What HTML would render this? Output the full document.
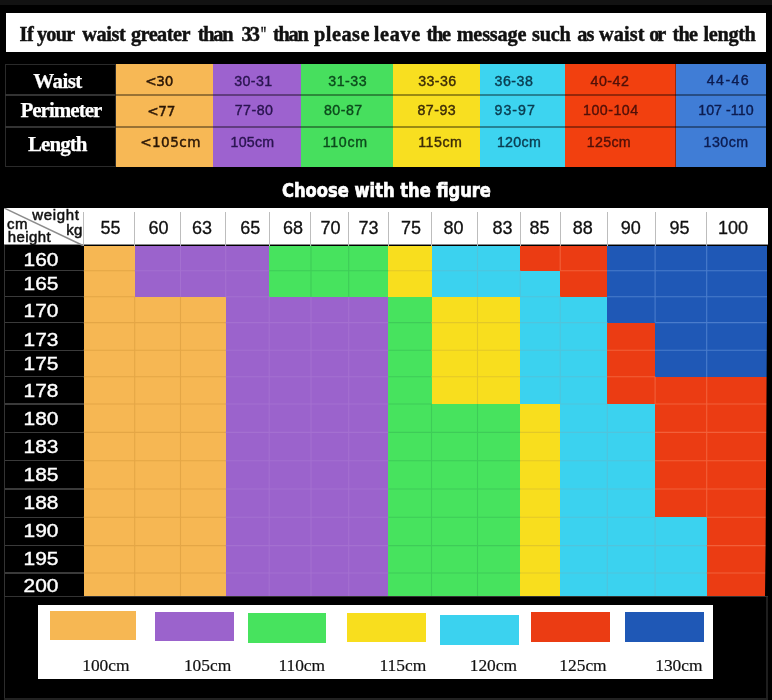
<!DOCTYPE html>
<html lang="en"><head><meta charset="utf-8"><title>Size chart</title>
<style>
html,body{margin:0;padding:0;background:#000;}
body{width:772px;height:700px;position:relative;overflow:hidden;font-family:"Liberation Sans",sans-serif;}
.a{position:absolute;}
.t{position:absolute;white-space:nowrap;line-height:1;}
.ser{font-family:"Liberation Serif",serif;}
.dj{font-family:"DejaVu Sans","Liberation Sans",sans-serif;}
.ch{font-size:18px;color:#111;-webkit-text-stroke:.3px #111;transform:translateX(-50%);}
.rh{font-size:18.5px;color:#fff;-webkit-text-stroke:.4px #fff;transform:translate(-50%,-50%) scaleX(1.13);}
.tv{font-size:14.2px;}
.tvo{font-size:13.6px;color:#2a1606;-webkit-text-stroke:.45px #2a1606;}
.lg{font-size:17.4px;color:#111;-webkit-text-stroke:.2px #111;}
.lab{font-size:21px;font-weight:bold;color:#fff;-webkit-text-stroke:.25px #fff;}
.hc{font-size:15px;color:#111;letter-spacing:.4px;-webkit-text-stroke:.5px #111;}
</style></head><body>

<div class="a" style="left:0;top:0;width:772px;height:5px;background:#121212"></div>
<div class="a" style="left:6px;top:12.5px;width:760px;height:39.5px;background:#fff"></div>
<div class="a ser" id="title" style="left:0;top:24.1px;-webkit-text-stroke:.45px #111;font-size:20.3px;font-weight:bold;color:#111;line-height:1;white-space:nowrap;width:772px;height:22px">
<span class="t" style="left:19.5px;top:0;letter-spacing:-0.36px">If</span> 
<span class="t" style="left:36.9px;top:0;letter-spacing:-0.73px">your</span> 
<span class="t" style="left:82.2px;top:0;letter-spacing:-0.38px">waist</span> 
<span class="t" style="left:130.9px;top:0;letter-spacing:-0.52px">greater</span> 
<span class="t" style="left:197.8px;top:0;letter-spacing:-1.23px">than</span> 
<span class="t" style="left:241.4px;top:0;letter-spacing:-1.9px">33</span><span class="t" style="left:259.6px;top:0;transform-origin:0 0;transform:scaleX(.62)">&quot;</span> 
<span class="t" style="left:273px;top:0;letter-spacing:-1.26px">than</span> 
<span class="t" style="left:313.9px;top:0;letter-spacing:0.54px">please</span> 
<span class="t" style="left:373.8px;top:0;letter-spacing:0.66px">leave</span> 
<span class="t" style="left:426.4px;top:0;letter-spacing:-1.23px">the</span> 
<span class="t" style="left:456.7px;top:0;letter-spacing:-0.21px">message</span> 
<span class="t" style="left:532px;top:0;letter-spacing:-0.23px">such</span> 
<span class="t" style="left:577.3px;top:0;letter-spacing:-1.05px">as</span> 
<span class="t" style="left:599px;top:0;letter-spacing:0.1px">waist</span> 
<span class="t" style="left:649.2px;top:0;letter-spacing:-2.16px">or</span> 
<span class="t" style="left:672.5px;top:0;letter-spacing:-0.78px">the</span> 
<span class="t" style="left:703.6px;top:0;letter-spacing:-0.37px">length</span> 
</div>
<div class="a" style="left:5px;top:63.5px;width:110.5px;height:103px;background:#000;border:1px solid #2a2a2a;box-sizing:border-box"></div>
<div class="a" style="left:115.5px;top:63.5px;width:98.5px;height:103px;background:#f7b855"></div>
<div class="a" style="left:213px;top:63.5px;width:89.3px;height:103px;background:#9d62cf"></div>
<div class="a" style="left:301.3px;top:63.5px;width:92.2px;height:103px;background:#47df5e"></div>
<div class="a" style="left:392.5px;top:63.5px;width:88.5px;height:103px;background:#f8df20"></div>
<div class="a" style="left:480px;top:63.5px;width:86.4px;height:103px;background:#3dd4f0"></div>
<div class="a" style="left:565.4px;top:63.5px;width:111.2px;height:103px;background:#f2400f"></div>
<div class="a" style="left:675.6px;top:63.5px;width:90.9px;height:103px;background:#407dd6"></div>
<div class="a" style="left:5px;top:94.25px;width:110px;height:1.5px;background:#333"></div>
<div class="a" style="left:115.5px;top:94.25px;width:651px;height:1.5px;background:rgba(0,0,0,.38)"></div>
<div class="a" style="left:5px;top:126.25px;width:110px;height:1.5px;background:#333"></div>
<div class="a" style="left:115.5px;top:126.25px;width:651px;height:1.5px;background:rgba(0,0,0,.38)"></div>
<div class="a" style="left:675px;top:63.5px;width:1.2px;height:103px;background:rgba(0,0,0,.35)"></div>
<div class="t ser lab" style="left:33.3px;top:71px;letter-spacing:-0.61px">Waist</div>
<div class="t ser lab" style="left:20.4px;top:99.9px;letter-spacing:-0.98px">Perimeter</div>
<div class="t ser lab" style="left:28px;top:134.1px;letter-spacing:-0.96px">Length</div>
<div class="t dj tvo" style="left:145.2px;top:75px;letter-spacing:-0.25px">&lt;30</div>
<div class="t dj tvo" style="left:147.2px;top:104.7px;letter-spacing:-0.25px">&lt;77</div>
<div class="t dj tvo" style="left:140.2px;top:136px;letter-spacing:0.44px">&lt;105cm</div>
<div class="t tv" style="left:234.2px;top:73.8px;letter-spacing:0.42px;color:#2a1450;-webkit-text-stroke:.4px #2a1450">30-31</div>
<div class="t tv" style="left:234.7px;top:102.6px;letter-spacing:0.5px;color:#2a1450;-webkit-text-stroke:.4px #2a1450">77-80</div>
<div class="t tv" style="left:230.5px;top:135.1px;letter-spacing:0.27px;color:#2a1450;-webkit-text-stroke:.4px #2a1450">105cm</div>
<div class="t tv" style="left:328.3px;top:73.8px;letter-spacing:0.52px;color:#0c4a1c;-webkit-text-stroke:.4px #0c4a1c">31-33</div>
<div class="t tv" style="left:323.9px;top:103.1px;letter-spacing:0.5px;color:#0c4a1c;-webkit-text-stroke:.4px #0c4a1c">80-87</div>
<div class="t tv" style="left:322.7px;top:135.1px;letter-spacing:0.73px;color:#0c4a1c;-webkit-text-stroke:.4px #0c4a1c">110cm</div>
<div class="t tv" style="left:418.2px;top:73.8px;letter-spacing:0.42px;color:#3c2c08;-webkit-text-stroke:.4px #3c2c08">33-36</div>
<div class="t tv" style="left:417.4px;top:102.6px;letter-spacing:0.5px;color:#3c2c08;-webkit-text-stroke:.4px #3c2c08">87-93</div>
<div class="t tv" style="left:418.2px;top:135.1px;letter-spacing:0.53px;color:#3c2c08;-webkit-text-stroke:.4px #3c2c08">115cm</div>
<div class="t tv" style="left:494.5px;top:73.8px;letter-spacing:0.5px;color:#0a3c50;-webkit-text-stroke:.4px #0a3c50">36-38</div>
<div class="t tv" style="left:494.5px;top:102.6px;letter-spacing:1px;color:#0a3c50;-webkit-text-stroke:.4px #0a3c50">93-97</div>
<div class="t tv" style="left:496.9px;top:135.1px;letter-spacing:0.34px;color:#0a3c50;-webkit-text-stroke:.4px #0a3c50">120cm</div>
<div class="t tv" style="left:590.5px;top:73.8px;letter-spacing:0.5px;color:#501008;-webkit-text-stroke:.4px #501008">40-42</div>
<div class="t tv" style="left:583.1px;top:102.6px;letter-spacing:0.48px;color:#501008;-webkit-text-stroke:.4px #501008">100-104</div>
<div class="t tv" style="left:586.8px;top:135.1px;letter-spacing:0.32px;color:#501008;-webkit-text-stroke:.4px #501008">125cm</div>
<div class="t tv" style="left:706.8px;top:73px;letter-spacing:1.42px;color:#0c1c50;-webkit-text-stroke:.4px #0c1c50">44-46</div>
<div class="t tv" style="left:698.2px;top:102.6px;letter-spacing:0.07px;color:#0c1c50;-webkit-text-stroke:.4px #0c1c50">107 -110</div>
<div class="t tv" style="left:703.6px;top:135.3px;letter-spacing:0.47px;color:#0c1c50;-webkit-text-stroke:.4px #0c1c50">130cm</div>
<div class="t dj" id="choose" style="left:281.5px;top:181.4px;font-size:19.5px;font-weight:bold;color:#fff;font-stretch:condensed;transform-origin:0 0;transform:scaleX(.93);-webkit-text-stroke:.7px #fff">Choose with the figure</div>
<div class="a" style="left:4px;top:207.7px;width:763.5px;height:37.8px;background:#fff;border-bottom:1px solid #8a8a8a;box-sizing:border-box"></div>
<div class="a" style="left:83px;top:212px;width:1px;height:33.5px;background:#bdbdbd"></div>
<div class="a" style="left:134px;top:212px;width:1px;height:33.5px;background:#bdbdbd"></div>
<div class="a" style="left:180px;top:212px;width:1px;height:33.5px;background:#bdbdbd"></div>
<div class="a" style="left:225px;top:212px;width:1px;height:33.5px;background:#bdbdbd"></div>
<div class="a" style="left:269px;top:212px;width:1px;height:33.5px;background:#bdbdbd"></div>
<div class="a" style="left:310px;top:212px;width:1px;height:33.5px;background:#bdbdbd"></div>
<div class="a" style="left:348px;top:212px;width:1px;height:33.5px;background:#bdbdbd"></div>
<div class="a" style="left:388px;top:212px;width:1px;height:33.5px;background:#bdbdbd"></div>
<div class="a" style="left:431px;top:212px;width:1px;height:33.5px;background:#bdbdbd"></div>
<div class="a" style="left:477px;top:212px;width:1px;height:33.5px;background:#bdbdbd"></div>
<div class="a" style="left:520px;top:212px;width:1px;height:33.5px;background:#bdbdbd"></div>
<div class="a" style="left:560px;top:212px;width:1px;height:33.5px;background:#bdbdbd"></div>
<div class="a" style="left:607px;top:212px;width:1px;height:33.5px;background:#bdbdbd"></div>
<div class="a" style="left:655px;top:212px;width:1px;height:33.5px;background:#bdbdbd"></div>
<div class="a" style="left:706px;top:212px;width:1px;height:33.5px;background:#bdbdbd"></div>
<svg class="a" style="left:4px;top:207.7px" width="80" height="38"><line x1="0" y1="0" x2="79.5" y2="37.8" stroke="#8c8c8c" stroke-width="1.5"/></svg>
<div class="t hc" style="left:32.2px;top:207px;letter-spacing:.65px">weight</div>
<div class="t hc" style="left:7px;top:216px">cm</div>
<div class="t hc" style="left:66.2px;top:222.2px">kg</div>
<div class="t hc" style="left:7.8px;top:229.4px">height</div>
<div class="t ch" style="left:110.6px;top:219.1px">55</div>
<div class="t ch" style="left:158.6px;top:219.1px">60</div>
<div class="t ch" style="left:202.1px;top:219.1px">63</div>
<div class="t ch" style="left:250.3px;top:219.1px">65</div>
<div class="t ch" style="left:292.9px;top:219.1px">68</div>
<div class="t ch" style="left:330.6px;top:219.1px">70</div>
<div class="t ch" style="left:368.5px;top:219.1px">73</div>
<div class="t ch" style="left:411.1px;top:219.1px">75</div>
<div class="t ch" style="left:453.6px;top:219.1px">80</div>
<div class="t ch" style="left:502.4px;top:219.1px">83</div>
<div class="t ch" style="left:539.4px;top:219.1px">85</div>
<div class="t ch" style="left:582.7px;top:219.1px">88</div>
<div class="t ch" style="left:630.7px;top:219.1px">90</div>
<div class="t ch" style="left:679.4px;top:219.1px">95</div>
<div class="t ch" style="left:733px;top:219.1px">100</div>
<div class="a" style="left:83.5px;top:245.5px;width:52.2px;height:26.2px;background:#f6b753"></div>
<div class="a" style="left:134.7px;top:245.5px;width:135.5px;height:26.2px;background:#9b63cc"></div>
<div class="a" style="left:269.2px;top:245.5px;width:120.2px;height:26.2px;background:#47e35e"></div>
<div class="a" style="left:388.4px;top:245.5px;width:44.1px;height:26.2px;background:#f8de1e"></div>
<div class="a" style="left:431.5px;top:245.5px;width:89.7px;height:26.2px;background:#3bd2ef"></div>
<div class="a" style="left:520.2px;top:245.5px;width:88.1px;height:26.2px;background:#eb3c13"></div>
<div class="a" style="left:607.3px;top:245.5px;width:159.7px;height:26.2px;background:#1f58b6"></div>
<div class="a" style="left:83.5px;top:270.7px;width:52.2px;height:27.1px;background:#f6b753"></div>
<div class="a" style="left:134.7px;top:270.7px;width:135.5px;height:27.1px;background:#9b63cc"></div>
<div class="a" style="left:269.2px;top:270.7px;width:120.2px;height:27.1px;background:#47e35e"></div>
<div class="a" style="left:388.4px;top:270.7px;width:44.1px;height:27.1px;background:#f8de1e"></div>
<div class="a" style="left:431.5px;top:270.7px;width:129.7px;height:27.1px;background:#3bd2ef"></div>
<div class="a" style="left:560.2px;top:270.7px;width:48.1px;height:27.1px;background:#eb3c13"></div>
<div class="a" style="left:607.3px;top:270.7px;width:159.7px;height:27.1px;background:#1f58b6"></div>
<div class="a" style="left:83.5px;top:296.8px;width:143.2px;height:26.8px;background:#f6b753"></div>
<div class="a" style="left:225.7px;top:296.8px;width:163.7px;height:26.8px;background:#9b63cc"></div>
<div class="a" style="left:388.4px;top:296.8px;width:44.1px;height:26.8px;background:#47e35e"></div>
<div class="a" style="left:431.5px;top:296.8px;width:89.7px;height:26.8px;background:#f8de1e"></div>
<div class="a" style="left:520.2px;top:296.8px;width:88.1px;height:26.8px;background:#3bd2ef"></div>
<div class="a" style="left:607.3px;top:296.8px;width:159.7px;height:26.8px;background:#1f58b6"></div>
<div class="a" style="left:83.5px;top:322.6px;width:143.2px;height:28.7px;background:#f6b753"></div>
<div class="a" style="left:225.7px;top:322.6px;width:163.7px;height:28.7px;background:#9b63cc"></div>
<div class="a" style="left:388.4px;top:322.6px;width:44.1px;height:28.7px;background:#47e35e"></div>
<div class="a" style="left:431.5px;top:322.6px;width:89.7px;height:28.7px;background:#f8de1e"></div>
<div class="a" style="left:520.2px;top:322.6px;width:88.1px;height:28.7px;background:#3bd2ef"></div>
<div class="a" style="left:607.3px;top:322.6px;width:48.8px;height:28.7px;background:#eb3c13"></div>
<div class="a" style="left:655.1px;top:322.6px;width:111.9px;height:28.7px;background:#1f58b6"></div>
<div class="a" style="left:83.5px;top:350.3px;width:143.2px;height:27.4px;background:#f6b753"></div>
<div class="a" style="left:225.7px;top:350.3px;width:163.7px;height:27.4px;background:#9b63cc"></div>
<div class="a" style="left:388.4px;top:350.3px;width:44.1px;height:27.4px;background:#47e35e"></div>
<div class="a" style="left:431.5px;top:350.3px;width:89.7px;height:27.4px;background:#f8de1e"></div>
<div class="a" style="left:520.2px;top:350.3px;width:88.1px;height:27.4px;background:#3bd2ef"></div>
<div class="a" style="left:607.3px;top:350.3px;width:48.8px;height:27.4px;background:#eb3c13"></div>
<div class="a" style="left:655.1px;top:350.3px;width:111.9px;height:27.4px;background:#1f58b6"></div>
<div class="a" style="left:83.5px;top:376.7px;width:143.2px;height:28.3px;background:#f6b753"></div>
<div class="a" style="left:225.7px;top:376.7px;width:163.7px;height:28.3px;background:#9b63cc"></div>
<div class="a" style="left:388.4px;top:376.7px;width:44.1px;height:28.3px;background:#47e35e"></div>
<div class="a" style="left:431.5px;top:376.7px;width:89.7px;height:28.3px;background:#f8de1e"></div>
<div class="a" style="left:520.2px;top:376.7px;width:88.1px;height:28.3px;background:#3bd2ef"></div>
<div class="a" style="left:607.3px;top:376.7px;width:159.7px;height:28.3px;background:#eb3c13"></div>
<div class="a" style="left:83.5px;top:404px;width:143.2px;height:29.4px;background:#f6b753"></div>
<div class="a" style="left:225.7px;top:404px;width:163.7px;height:29.4px;background:#9b63cc"></div>
<div class="a" style="left:388.4px;top:404px;width:132.8px;height:29.4px;background:#47e35e"></div>
<div class="a" style="left:520.2px;top:404px;width:41px;height:29.4px;background:#f8de1e"></div>
<div class="a" style="left:560.2px;top:404px;width:95.9px;height:29.4px;background:#3bd2ef"></div>
<div class="a" style="left:655.1px;top:404px;width:111.9px;height:29.4px;background:#eb3c13"></div>
<div class="a" style="left:83.5px;top:432.4px;width:143.2px;height:29.3px;background:#f6b753"></div>
<div class="a" style="left:225.7px;top:432.4px;width:163.7px;height:29.3px;background:#9b63cc"></div>
<div class="a" style="left:388.4px;top:432.4px;width:132.8px;height:29.3px;background:#47e35e"></div>
<div class="a" style="left:520.2px;top:432.4px;width:41px;height:29.3px;background:#f8de1e"></div>
<div class="a" style="left:560.2px;top:432.4px;width:95.9px;height:29.3px;background:#3bd2ef"></div>
<div class="a" style="left:655.1px;top:432.4px;width:111.9px;height:29.3px;background:#eb3c13"></div>
<div class="a" style="left:83.5px;top:460.7px;width:143.2px;height:29.3px;background:#f6b753"></div>
<div class="a" style="left:225.7px;top:460.7px;width:163.7px;height:29.3px;background:#9b63cc"></div>
<div class="a" style="left:388.4px;top:460.7px;width:132.8px;height:29.3px;background:#47e35e"></div>
<div class="a" style="left:520.2px;top:460.7px;width:41px;height:29.3px;background:#f8de1e"></div>
<div class="a" style="left:560.2px;top:460.7px;width:95.9px;height:29.3px;background:#3bd2ef"></div>
<div class="a" style="left:655.1px;top:460.7px;width:111.9px;height:29.3px;background:#eb3c13"></div>
<div class="a" style="left:83.5px;top:489px;width:143.2px;height:29.3px;background:#f6b753"></div>
<div class="a" style="left:225.7px;top:489px;width:163.7px;height:29.3px;background:#9b63cc"></div>
<div class="a" style="left:388.4px;top:489px;width:132.8px;height:29.3px;background:#47e35e"></div>
<div class="a" style="left:520.2px;top:489px;width:41px;height:29.3px;background:#f8de1e"></div>
<div class="a" style="left:560.2px;top:489px;width:95.9px;height:29.3px;background:#3bd2ef"></div>
<div class="a" style="left:655.1px;top:489px;width:111.9px;height:29.3px;background:#eb3c13"></div>
<div class="a" style="left:83.5px;top:517.3px;width:143.2px;height:29.3px;background:#f6b753"></div>
<div class="a" style="left:225.7px;top:517.3px;width:163.7px;height:29.3px;background:#9b63cc"></div>
<div class="a" style="left:388.4px;top:517.3px;width:132.8px;height:29.3px;background:#47e35e"></div>
<div class="a" style="left:520.2px;top:517.3px;width:41px;height:29.3px;background:#f8de1e"></div>
<div class="a" style="left:560.2px;top:517.3px;width:147.5px;height:29.3px;background:#3bd2ef"></div>
<div class="a" style="left:706.7px;top:517.3px;width:60.3px;height:29.3px;background:#eb3c13"></div>
<div class="a" style="left:83.5px;top:545.6px;width:143.2px;height:28.4px;background:#f6b753"></div>
<div class="a" style="left:225.7px;top:545.6px;width:163.7px;height:28.4px;background:#9b63cc"></div>
<div class="a" style="left:388.4px;top:545.6px;width:132.8px;height:28.4px;background:#47e35e"></div>
<div class="a" style="left:520.2px;top:545.6px;width:41px;height:28.4px;background:#f8de1e"></div>
<div class="a" style="left:560.2px;top:545.6px;width:147.5px;height:28.4px;background:#3bd2ef"></div>
<div class="a" style="left:706.7px;top:545.6px;width:60.3px;height:28.4px;background:#eb3c13"></div>
<div class="a" style="left:83.5px;top:573px;width:143.2px;height:23.3px;background:#f6b753"></div>
<div class="a" style="left:225.7px;top:573px;width:163.7px;height:23.3px;background:#9b63cc"></div>
<div class="a" style="left:388.4px;top:573px;width:132.8px;height:23.3px;background:#47e35e"></div>
<div class="a" style="left:520.2px;top:573px;width:41px;height:23.3px;background:#f8de1e"></div>
<div class="a" style="left:560.2px;top:573px;width:147.5px;height:23.3px;background:#3bd2ef"></div>
<div class="a" style="left:706.7px;top:573px;width:60.3px;height:23.3px;background:#eb3c13"></div>
<svg class="a" style="left:0;top:0" width="772" height="700" fill="none" stroke-width="1.1">
<path stroke="#e4a646" d="M83.5 270.7h51.2M83.5 296.8h51.2M83.5 322.6h51.2M134.7 296.8v25.8M134.7 322.6h45.8M180.5 296.8v25.8M180.5 322.6h45.2M83.5 350.3h51.2M134.7 322.6v27.7M134.7 350.3h45.8M180.5 322.6v27.7M180.5 350.3h45.2M83.5 376.7h51.2M134.7 350.3v26.4M134.7 376.7h45.8M180.5 350.3v26.4M180.5 376.7h45.2M83.5 404h51.2M134.7 376.7v27.3M134.7 404h45.8M180.5 376.7v27.3M180.5 404h45.2M83.5 432.4h51.2M134.7 404v28.4M134.7 432.4h45.8M180.5 404v28.4M180.5 432.4h45.2M83.5 460.7h51.2M134.7 432.4v28.3M134.7 460.7h45.8M180.5 432.4v28.3M180.5 460.7h45.2M83.5 489h51.2M134.7 460.7v28.3M134.7 489h45.8M180.5 460.7v28.3M180.5 489h45.2M83.5 517.3h51.2M134.7 489v28.3M134.7 517.3h45.8M180.5 489v28.3M180.5 517.3h45.2M83.5 545.6h51.2M134.7 517.3v28.3M134.7 545.6h45.8M180.5 517.3v28.3M180.5 545.6h45.2M83.5 573h51.2M134.7 545.6v27.4M134.7 573h45.8M180.5 545.6v27.4M180.5 573h45.2M134.7 573v23.3M180.5 573v23.3"/>
<path stroke="#a470d0" d="M134.7 270.7h45.8M180.5 245.5v25.2M180.5 270.7h45.2M225.7 245.5v25.2M225.7 270.7h43.5M180.5 270.7v26.1M225.7 270.7v26.1M225.7 296.8h43.5M225.7 322.6h43.5M269.2 296.8v25.8M269.2 322.6h41.8M311 296.8v25.8M311 322.6h37.7M348.7 296.8v25.8M348.7 322.6h39.7M225.7 350.3h43.5M269.2 322.6v27.7M269.2 350.3h41.8M311 322.6v27.7M311 350.3h37.7M348.7 322.6v27.7M348.7 350.3h39.7M225.7 376.7h43.5M269.2 350.3v26.4M269.2 376.7h41.8M311 350.3v26.4M311 376.7h37.7M348.7 350.3v26.4M348.7 376.7h39.7M225.7 404h43.5M269.2 376.7v27.3M269.2 404h41.8M311 376.7v27.3M311 404h37.7M348.7 376.7v27.3M348.7 404h39.7M225.7 432.4h43.5M269.2 404v28.4M269.2 432.4h41.8M311 404v28.4M311 432.4h37.7M348.7 404v28.4M348.7 432.4h39.7M225.7 460.7h43.5M269.2 432.4v28.3M269.2 460.7h41.8M311 432.4v28.3M311 460.7h37.7M348.7 432.4v28.3M348.7 460.7h39.7M225.7 489h43.5M269.2 460.7v28.3M269.2 489h41.8M311 460.7v28.3M311 489h37.7M348.7 460.7v28.3M348.7 489h39.7M225.7 517.3h43.5M269.2 489v28.3M269.2 517.3h41.8M311 489v28.3M311 517.3h37.7M348.7 489v28.3M348.7 517.3h39.7M225.7 545.6h43.5M269.2 517.3v28.3M269.2 545.6h41.8M311 517.3v28.3M311 545.6h37.7M348.7 517.3v28.3M348.7 545.6h39.7M225.7 573h43.5M269.2 545.6v27.4M269.2 573h41.8M311 545.6v27.4M311 573h37.7M348.7 545.6v27.4M348.7 573h39.7M269.2 573v23.3M311 573v23.3M348.7 573v23.3"/>
<path stroke="#3ecc58" d="M269.2 270.7h41.8M311 245.5v25.2M311 270.7h37.7M348.7 245.5v25.2M348.7 270.7h39.7M311 270.7v26.1M348.7 270.7v26.1M388.4 322.6h43.1M388.4 350.3h43.1M388.4 376.7h43.1M388.4 404h43.1M388.4 432.4h43.1M431.5 404v28.4M431.5 432.4h46M477.5 404v28.4M477.5 432.4h42.7M388.4 460.7h43.1M431.5 432.4v28.3M431.5 460.7h46M477.5 432.4v28.3M477.5 460.7h42.7M388.4 489h43.1M431.5 460.7v28.3M431.5 489h46M477.5 460.7v28.3M477.5 489h42.7M388.4 517.3h43.1M431.5 489v28.3M431.5 517.3h46M477.5 489v28.3M477.5 517.3h42.7M388.4 545.6h43.1M431.5 517.3v28.3M431.5 545.6h46M477.5 517.3v28.3M477.5 545.6h42.7M388.4 573h43.1M431.5 545.6v27.4M431.5 573h46M477.5 545.6v27.4M477.5 573h42.7M431.5 573v23.3M477.5 573v23.3"/>
<path stroke="#e2c828" d="M388.4 270.7h43.1M431.5 322.6h46M477.5 296.8v25.8M477.5 322.6h42.7M431.5 350.3h46M477.5 322.6v27.7M477.5 350.3h42.7M431.5 376.7h46M477.5 350.3v26.4M477.5 376.7h42.7M477.5 376.7v27.3M520.2 432.4h40M520.2 460.7h40M520.2 489h40M520.2 517.3h40M520.2 545.6h40M520.2 573h40"/>
<path stroke="#50c4dc" d="M431.5 270.7h46M477.5 245.5v25.2M477.5 270.7h42.7M477.5 270.7v26.1M520.2 270.7v26.1M520.2 296.8h40M520.2 322.6h40M560.2 296.8v25.8M560.2 322.6h47.1M520.2 350.3h40M560.2 322.6v27.7M560.2 350.3h47.1M520.2 376.7h40M560.2 350.3v26.4M560.2 376.7h47.1M560.2 376.7v27.3M560.2 404h47.1M560.2 432.4h47.1M607.3 404v28.4M607.3 432.4h47.8M560.2 460.7h47.1M607.3 432.4v28.3M607.3 460.7h47.8M560.2 489h47.1M607.3 460.7v28.3M607.3 489h47.8M560.2 517.3h47.1M607.3 489v28.3M607.3 517.3h47.8M560.2 545.6h47.1M607.3 517.3v28.3M607.3 545.6h47.8M655.1 517.3v28.3M655.1 545.6h51.6M560.2 573h47.1M607.3 545.6v27.4M607.3 573h47.8M655.1 545.6v27.4M655.1 573h51.6M607.3 573v23.3M655.1 573v23.3"/>
<path stroke="#f2603a" d="M560.2 245.5v25.2M560.2 270.7h47.1M607.3 350.3h47.8M607.3 376.7h47.8M655.1 376.7v27.3M655.1 404h51.6M706.7 376.7v27.3M706.7 404h60.3M655.1 432.4h51.6M706.7 404v28.4M706.7 432.4h60.3M655.1 460.7h51.6M706.7 432.4v28.3M706.7 460.7h60.3M655.1 489h51.6M706.7 460.7v28.3M706.7 489h60.3M706.7 489v28.3M706.7 517.3h60.3M706.7 545.6h60.3M706.7 573h60.3"/>
<path stroke="#4a7ccc" d="M607.3 270.7h47.8M655.1 245.5v25.2M655.1 270.7h51.6M706.7 245.5v25.2M706.7 270.7h60.3M607.3 296.8h47.8M655.1 270.7v26.1M655.1 296.8h51.6M706.7 270.7v26.1M706.7 296.8h60.3M655.1 296.8v25.8M655.1 322.6h51.6M706.7 296.8v25.8M706.7 322.6h60.3M655.1 350.3h51.6M706.7 322.6v27.7M706.7 350.3h60.3M706.7 350.3v26.4"/>
</svg>
<div class="a" style="left:4px;top:270px;width:79.5px;height:1.4px;background:#3a3a3a"></div>
<div class="a" style="left:4px;top:296.1px;width:79.5px;height:1.4px;background:#3a3a3a"></div>
<div class="a" style="left:4px;top:321.9px;width:79.5px;height:1.4px;background:#3a3a3a"></div>
<div class="a" style="left:4px;top:349.6px;width:79.5px;height:1.4px;background:#3a3a3a"></div>
<div class="a" style="left:4px;top:376px;width:79.5px;height:1.4px;background:#3a3a3a"></div>
<div class="a" style="left:4px;top:403.3px;width:79.5px;height:1.4px;background:#3a3a3a"></div>
<div class="a" style="left:4px;top:431.7px;width:79.5px;height:1.4px;background:#3a3a3a"></div>
<div class="a" style="left:4px;top:460px;width:79.5px;height:1.4px;background:#3a3a3a"></div>
<div class="a" style="left:4px;top:488.3px;width:79.5px;height:1.4px;background:#3a3a3a"></div>
<div class="a" style="left:4px;top:516.6px;width:79.5px;height:1.4px;background:#3a3a3a"></div>
<div class="a" style="left:4px;top:544.9px;width:79.5px;height:1.4px;background:#3a3a3a"></div>
<div class="a" style="left:4px;top:572.3px;width:79.5px;height:1.4px;background:#3a3a3a"></div>
<svg class="a" style="left:760px;top:245px" width="12" height="354"><polygon points="7.4,0 12,0 12,354 5,354 5,351.3 5.6,300" fill="#000"/></svg>
<div class="a" style="left:3.5px;top:245px;width:1.2px;height:352px;background:#333"></div>
<div class="a" style="left:3.5px;top:596px;width:764px;height:1.3px;background:#333"></div>
<div class="t rh" style="left:41px;top:259.9px">160</div>
<div class="t rh" style="left:41px;top:283.8px">165</div>
<div class="t rh" style="left:41px;top:310.8px">170</div>
<div class="t rh" style="left:41px;top:339.6px">173</div>
<div class="t rh" style="left:41px;top:363.5px">175</div>
<div class="t rh" style="left:41px;top:390.7px">178</div>
<div class="t rh" style="left:41px;top:418.8px">180</div>
<div class="t rh" style="left:41px;top:446.8px">183</div>
<div class="t rh" style="left:41px;top:475.1px">185</div>
<div class="t rh" style="left:41px;top:502.9px">188</div>
<div class="t rh" style="left:41px;top:530.9px">190</div>
<div class="t rh" style="left:41px;top:559px">195</div>
<div class="t rh" style="left:41px;top:585.9px">200</div>
<div class="a" style="left:3.6px;top:597px;width:1.3px;height:103px;background:#2c2c2c"></div>
<div class="a" style="left:766.4px;top:597px;width:1.2px;height:103px;background:#1e1e1e"></div>
<div class="a" style="left:3.6px;top:698.2px;width:764px;height:1.8px;background:#222"></div>
<div class="a" style="left:37.8px;top:604.5px;width:675.2px;height:74px;background:#fff"></div>
<div class="a" style="left:50px;top:610.5px;width:86px;height:29.4px;background:#f6b753"></div>
<div class="a" style="left:155px;top:611.8px;width:78.6px;height:29.2px;background:#9b63cc"></div>
<div class="a" style="left:247.6px;top:613px;width:78.4px;height:30px;background:#47e35e"></div>
<div class="a" style="left:346.9px;top:612.5px;width:79.3px;height:29.5px;background:#f8de1e"></div>
<div class="a" style="left:440.2px;top:614.6px;width:79.3px;height:30px;background:#3bd2ef"></div>
<div class="a" style="left:531.4px;top:612px;width:78.8px;height:30px;background:#eb3c13"></div>
<div class="a" style="left:624.7px;top:612.3px;width:79.5px;height:29.7px;background:#1f58b6"></div>
<div class="t ser lg" style="left:82.2px;top:656.9px">100cm</div>
<div class="t ser lg" style="left:183.9px;top:656.9px">105cm</div>
<div class="t ser lg" style="left:278.4px;top:656.9px">110cm</div>
<div class="t ser lg" style="left:379.5px;top:656.9px">115cm</div>
<div class="t ser lg" style="left:469.7px;top:656.9px">120cm</div>
<div class="t ser lg" style="left:559.3px;top:656.9px">125cm</div>
<div class="t ser lg" style="left:655.2px;top:656.9px">130cm</div>
</body></html>
